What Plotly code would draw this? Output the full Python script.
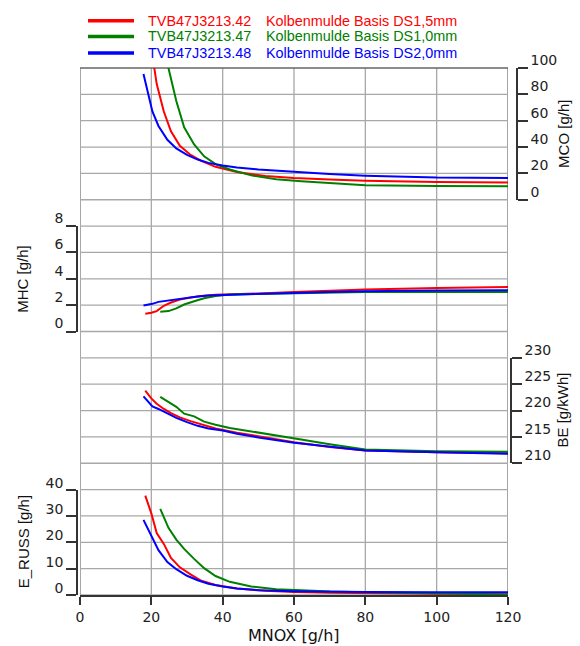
import plotly.graph_objects as go

# ---------------- data ----------------
series_names = ["TVB47J3213.42", "TVB47J3213.47", "TVB47J3213.48"]
series_desc = ["Kolbenmulde Basis DS1,5mm", "Kolbenmulde Basis DS1,0mm", "Kolbenmulde Basis DS2,0mm"]
series_colors = ["#ff0000", "#008000", "#0000ff"]

# TVB47J3213.42 (red)
red_mnox = [18.3, 20, 21.5, 23.5, 25.5, 28, 31, 34, 38, 44, 52, 60, 70, 80, 100, 120]
red_mco = [135, 115, 88, 67, 52, 41, 34, 29.5, 25, 21, 18, 16.5, 15.3, 14.5, 13.5, 13.0]
red_mhc = [1.34, 1.42, 1.55, 1.95, 2.2, 2.42, 2.58, 2.7, 2.78, 2.81, 2.9, 2.99, 3.1, 3.19, 3.31, 3.37]
red_be = [223.8, 222.3, 221.3, 220.3, 219.5, 218.7, 218.0, 217.4, 216.6, 215.8, 214.9, 214.0, 213.1, 212.4, 212.1, 211.9]
red_eruss = [37.7, 31, 23.5, 19.4, 14.1, 10.5, 7.8, 5.4, 3.8, 2.5, 1.6, 1.1, 0.9, 0.7, 0.5, 0.3]

# TVB47J3213.47 (green)
green_mnox = [22.5, 24.8, 27, 29.2, 32, 34.8, 38, 42, 48, 55, 62, 70, 80, 100, 120]
green_mco = [130, 100, 75, 55, 42, 33, 27, 23, 18.5, 15.5, 14, 12.5, 11, 10.4, 10.2]
green_mhc = [1.49, 1.55, 1.75, 2.05, 2.3, 2.53, 2.7, 2.81, 2.84, 2.87, 2.9, 2.94, 2.99, 2.99, 2.99]
green_be = [222.6, 221.6, 220.7, 219.4, 218.9, 217.9, 217.3, 216.7, 216.0, 215.2, 214.5, 213.6, 212.6, 212.3, 212.2]
green_eruss = [32.7, 25.5, 21, 17.5, 13.7, 10.2, 7.2, 5.0, 3.2, 2.2, 1.8, 1.3, 1.0, 0.5, 0.2]

# TVB47J3213.48 (blue)
blue_mnox = [17.8, 20.3, 22, 24.5, 27, 30, 33, 36, 40, 44, 50, 60, 70, 80, 100, 120]
blue_mco = [95.4, 67, 56, 45.5, 39, 34, 30.5, 28, 26, 24.5, 23, 21.1, 19.6, 18.3, 16.8, 16.5]
blue_mhc = [1.98, 2.1, 2.25, 2.35, 2.45, 2.55, 2.65, 2.74, 2.78, 2.81, 2.85, 2.93, 3.0, 3.06, 3.11, 3.14]
blue_be = [222.7, 220.8, 220.3, 219.4, 218.6, 217.8, 217.1, 216.6, 216.2, 215.6, 214.9, 213.9, 213.1, 212.4, 212.1, 211.8]
blue_eruss = [28.5, 21.3, 17, 12.5, 9.8, 7.3, 5.6, 4.3, 3.2, 2.5, 1.8, 1.4, 1.2, 1.1, 1.0, 1.0]

x_ticks = [0, 20, 40, 60, 80, 100, 120]
mco_ticks = [0, 20, 40, 60, 80, 100]
mhc_ticks = [0, 2, 4, 6, 8]
be_ticks = [210, 215, 220, 225, 230]
eruss_ticks = [0, 10, 20, 30, 40]

# ---------------- figure ----------------
W, H = 580, 646
ML, MR, MT, MB = 77, 63, 68, 51
PW = W - ML - MR
PH = H - MT - MB

fig = go.Figure()

series = [
    (red_mnox, red_mco, red_mhc, red_be, red_eruss, series_colors[0]),
    (green_mnox, green_mco, green_mhc, green_be, green_eruss, series_colors[1]),
    (blue_mnox, blue_mco, blue_mhc, blue_be, blue_eruss, series_colors[2]),
]
for i, (xs, mco, mhc, be, er, col) in enumerate(series):
    for yref, vals in (("y", mco), ("y2", mhc), ("y3", be), ("y4", er)):
        fig.add_trace(go.Scatter(x=xs, y=vals, mode="lines", yaxis=yref,
                                 line=dict(color=col, width=2),
                                 name=series_names[i], showlegend=False,
                                 hoverinfo="skip"))

tickfont = dict(family="DejaVu Sans", size=14, color="#222222")
axcol = "#333333"

def yax(domain, rng, ticks, side, pos, shift):
    return dict(domain=domain, range=rng, tickvals=ticks, side=side,
                anchor="free", position=pos, showgrid=False, zeroline=False,
                showline=True, linecolor=axcol, linewidth=1.5,
                ticks="outside", ticklen=10, tickwidth=1.5, tickcolor=axcol,
                tickfont=tickfont, ticklabelshift=shift, fixedrange=True)

x_dom = [3 / PW, 431 / PW]
fig.update_layout(
    width=W, height=H,
    margin=dict(l=ML, r=MR, t=MT, b=MB, pad=0),
    paper_bgcolor="white", plot_bgcolor="white",
    showlegend=False,
    xaxis=dict(domain=x_dom, range=[0, 120], tickvals=x_ticks, anchor="y4",
               showgrid=False, zeroline=False, showline=True, linecolor=axcol,
               linewidth=2, ticks="outside", ticklen=8, tickwidth=1.5,
               tickcolor=axcol, tickfont=tickfont, fixedrange=True),
    yaxis=yax([0.75, 1.0], [0, 100], mco_ticks, "right", 1.0, -8),
    yaxis2=yax([0.5, 0.7], [0, 8], mhc_ticks, "left", 0.0, -8),
    yaxis3=yax([0.25, 0.45], [210, 230], be_ticks, "right", 434 / PW, -8),
    yaxis4=yax([0.0, 0.2], [0, 40], eruss_ticks, "left", 0.0, -7),
)

# grid lines (full height / full width), drawn below the data
gridcol = "#a8a8a8"
for xv in x_ticks:
    edge = xv in (x_ticks[0], x_ticks[-1])
    fig.add_shape(type="line", xref="x", yref="paper", x0=xv, x1=xv, y0=0, y1=1,
                  line=dict(color="#777777" if edge else gridcol, width=1.3),
                  layer="below")
n_rows = 20
for k in range(n_rows + 1):
    fig.add_shape(type="line", xref="x", yref="paper", x0=x_ticks[0], x1=x_ticks[-1],
                  y0=k / n_rows, y1=k / n_rows,
                  line=dict(color="#666666" if k == n_rows else gridcol, width=1.3),
                  layer="below")

# axis titles
title_font = dict(family="Liberation Sans, Arial", size=15, color="#111111")
def px_x(p):
    return (p - ML) / PW
def px_y(p):
    return (H - MB - p) / PH

fig.add_annotation(text="MCO [g/h]", x=px_x(564), y=0.875, xref="paper", yref="paper",
                   textangle=-90, showarrow=False, font=title_font,
                   xanchor="center", yanchor="middle")
fig.add_annotation(text="MHC [g/h]", x=px_x(23), y=0.6, xref="paper", yref="paper",
                   textangle=-90, showarrow=False, font=title_font,
                   xanchor="center", yanchor="middle")
fig.add_annotation(text="BE [g/kWh]", x=px_x(563), y=0.35, xref="paper", yref="paper",
                   textangle=-90, showarrow=False, font=title_font,
                   xanchor="center", yanchor="middle")
fig.add_annotation(text="E_RUSS [g/h]", x=px_x(23), y=0.1, xref="paper", yref="paper",
                   textangle=-90, showarrow=False, font=title_font,
                   xanchor="center", yanchor="middle")
fig.add_annotation(text="MNOX [g/h]", x=px_x(294), y=px_y(635), xref="paper", yref="paper",
                   showarrow=False, font=dict(family="DejaVu Sans", size=16, color="#111111"),
                   xanchor="center", yanchor="middle")

# legend (manual, two text columns)
leg_font = "Liberation Sans, Arial"
leg_rows = [20.7, 36.5, 53.0]
for i in range(3):
    yy = px_y(leg_rows[i])
    fig.add_shape(type="line", xref="paper", yref="paper",
                  x0=px_x(88), x1=px_x(134), y0=yy, y1=yy,
                  line=dict(color=series_colors[i], width=3.5))
    fig.add_annotation(text=series_names[i], x=px_x(146), y=yy, xref="paper", yref="paper",
                       showarrow=False, xanchor="left", yanchor="middle",
                       font=dict(family=leg_font, size=14.4, color=series_colors[i]))
    fig.add_annotation(text=series_desc[i], x=px_x(264), y=yy, xref="paper", yref="paper",
                       showarrow=False, xanchor="left", yanchor="middle",
                       font=dict(family=leg_font, size=14.4, color=series_colors[i]))

fig.write_html("out.html")
